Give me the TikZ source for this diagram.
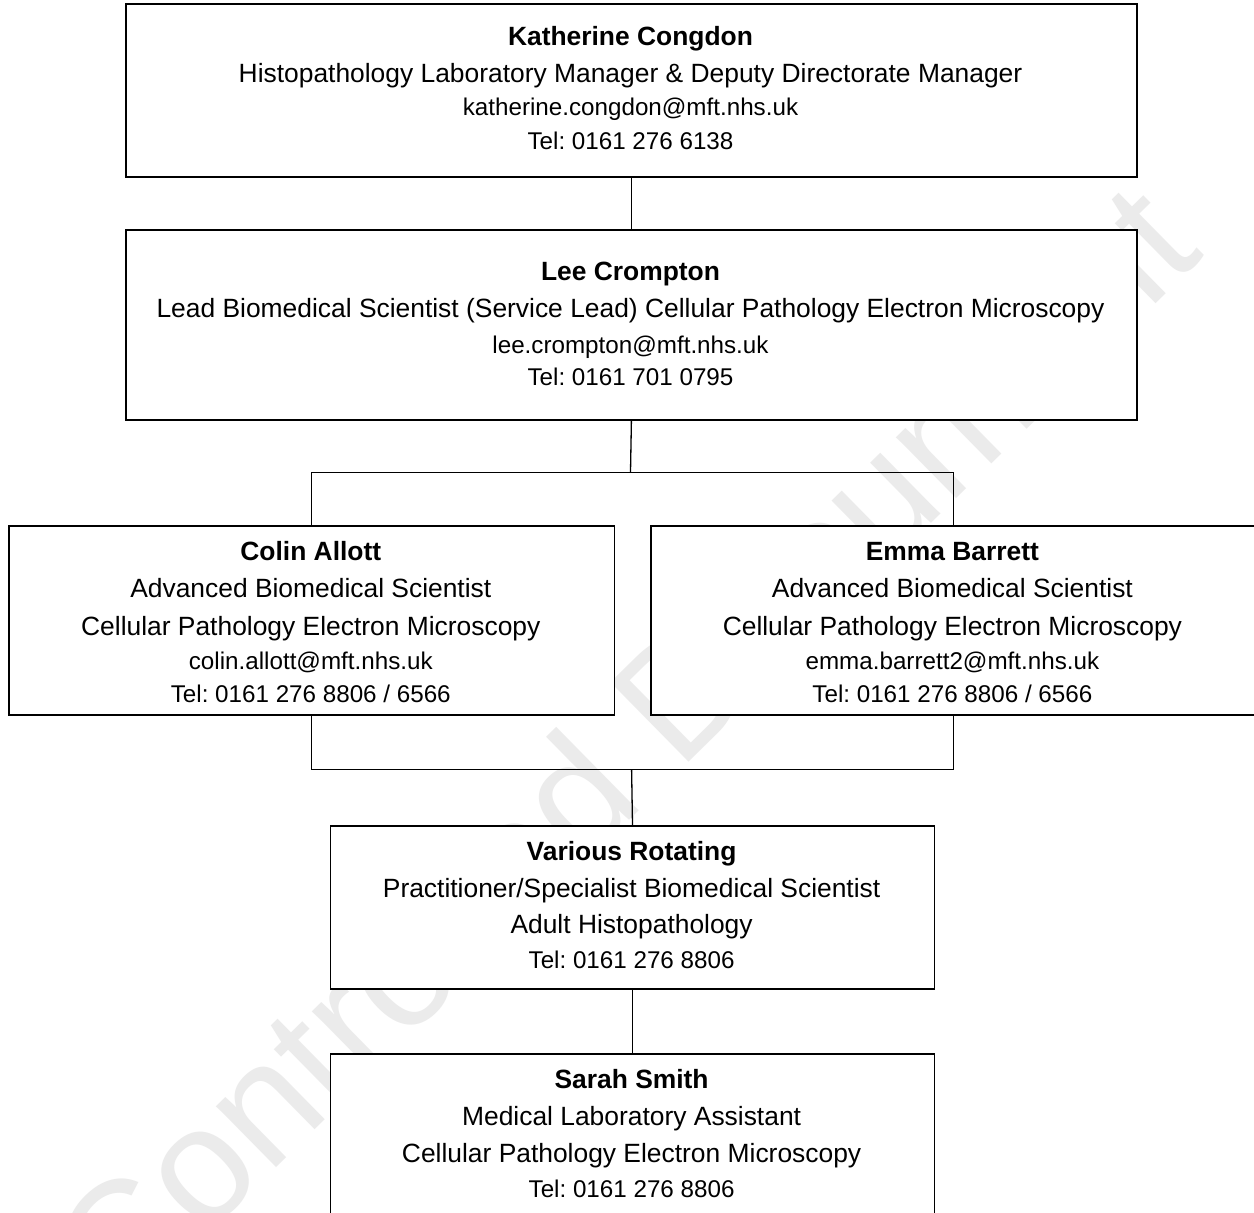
\documentclass[tikz,border=0pt]{standalone}
\usepackage{fontspec}
\setmainfont{Liberation Sans}
\frenchspacing
\begin{document}
\begin{tikzpicture}[x=1pt,y=-1pt,
  box/.style={draw=black,line width=1.8pt,fill=white,rectangle,inner sep=0pt,anchor=north west},
  conn/.style={draw=black,line width=1.3pt},
  nm/.style={anchor=base,inner sep=0pt,font=\fontsize{26.4}{30}\selectfont\bfseries},
  ln/.style={anchor=base,inner sep=0pt,font=\fontsize{26.4}{30}\selectfont},
  sm/.style={anchor=base,inner sep=0pt,font=\fontsize{24.2}{28}\selectfont},
  wm/.style={anchor=base east,inner sep=0pt,text=black!8,font=\fontsize{162}{170}\selectfont}]
\useasboundingbox (0,0) rectangle (1254,1213);
\fill[white] (0,0) rectangle (1254,1213);
% watermark
\node[wm,rotate=44.5] (wmark) at (1206,254) {Controlled Document};
% boxes
\node[box,minimum width=1011pt,minimum height=172.4pt] (b1) at (125,3.3) {};
\node[box,minimum width=1011pt,minimum height=190pt] (b2) at (125,229) {};
\node[box,minimum width=605.6pt,minimum height=189pt] (b3) at (8,525) {};
\node[box,minimum width=605pt,minimum height=189pt] (b4) at (650.4,525) {};
\node[box,minimum width=604pt,minimum height=163.3pt] (b5) at (329.6,825) {};
\node[box,minimum width=604pt,minimum height=170pt] (b6) at (329.6,1053.3) {};
% connectors
\coordinate (j1) at (630.5,472.3);
\coordinate (j2) at (631.6,769.3);
\draw[conn] (b1.south) -- (b2.north);
\draw[conn] (b2.south) -- (j1);
\draw[conn] (b3.north) |- (j1) -| (b4.north);
\draw[conn] (b3.south) |- (j2) -| (b4.south);
\draw[conn] (j2) -- (b5.north);
\draw[conn] (b5.south) -- (b6.north);
% box 1
\node[nm] (t11) at (630.5,45) {Katherine Congdon};
\node[ln] (t12) at (630.5,82) {Histopathology Laboratory Manager \& Deputy Directorate Manager};
\node[sm] (t13) at (630.5,115) {katherine.congdon@mft.nhs.uk};
\node[sm] (t14) at (630.5,149) {Tel: 0161 276 6138};
% box 2
\node[nm] (t21) at (630.5,280) {Lee Crompton};
\node[ln] (t22) at (630.5,317) {Lead Biomedical Scientist (Service Lead) Cellular Pathology Electron Microscopy};
\node[sm] (t23) at (630.5,353) {lee.crompton@mft.nhs.uk};
\node[sm] (t24) at (630.5,385) {Tel: 0161 701 0795};
% box 3
\node[nm] (t31) at (310.8,560) {Colin Allott};
\node[ln] (t32) at (310.8,597) {Advanced Biomedical Scientist};
\node[ln] (t33) at (310.8,635) {Cellular Pathology Electron Microscopy};
\node[sm] (t34) at (310.8,669) {colin.allott@mft.nhs.uk};
\node[sm] (t35) at (310.8,702) {Tel: 0161 276 8806 / 6566};
% box 4
\node[nm] (t41) at (952.4,560) {Emma Barrett};
\node[ln] (t42) at (952.4,597) {Advanced Biomedical Scientist};
\node[ln] (t43) at (952.4,635) {Cellular Pathology Electron Microscopy};
\node[sm] (t44) at (952.4,669) {emma.barrett2@mft.nhs.uk};
\node[sm] (t45) at (952.4,702) {Tel: 0161 276 8806 / 6566};
% box 5
\node[nm] (t51) at (631.6,860) {Various Rotating};
\node[ln] (t52) at (631.6,897) {Practitioner/Specialist Biomedical Scientist};
\node[ln] (t53) at (631.6,933) {Adult Histopathology};
\node[sm] (t54) at (631.6,968) {Tel: 0161 276 8806};
% box 6
\node[nm] (t61) at (631.6,1088) {Sarah Smith};
\node[ln] (t62) at (631.6,1125) {Medical Laboratory Assistant};
\node[ln] (t63) at (631.6,1162) {Cellular Pathology Electron Microscopy};
\node[sm] (t64) at (631.6,1197) {Tel: 0161 276 8806};
\end{tikzpicture}
\end{document}
